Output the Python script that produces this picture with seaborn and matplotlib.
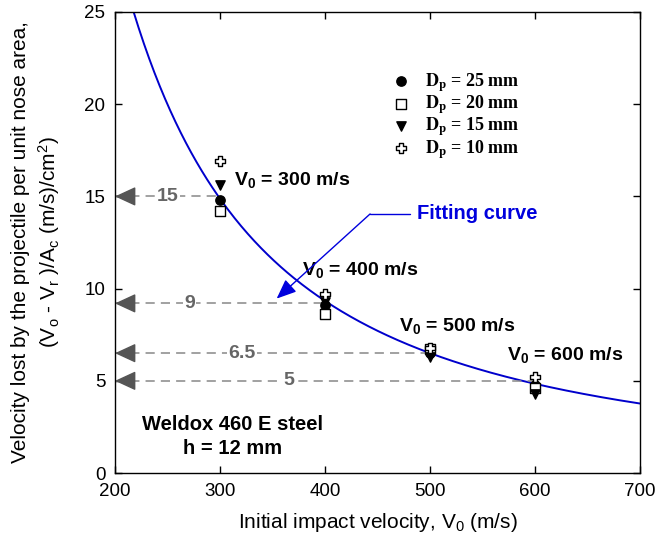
import matplotlib
matplotlib.use("Agg")
import matplotlib.pyplot as plt
from matplotlib.font_manager import FontProperties
import numpy as np
import pandas as pd
import seaborn as sns

# impact velocities (m/s)
velocities = [300, 400, 500, 600]

# velocity lost per unit nose area for each projectile diameter
dp25 = [14.8, 9.1, 6.5, 4.8]
dp20 = [14.2, 8.6, 6.7, 4.6]
dp15 = [15.6, 9.3, 6.3, 4.3]
dp10 = [16.9, 9.7, 6.8, 5.2]

# fitted power law  y = A * V0^B
FIT_A = 1.533e5
FIT_B = -1.62

# reference levels
ref_levels = [15.0, 9.2, 6.5, 5.0]
ref_labels = ["15", "9", "6.5", "5"]
ref_ends = [300, 400, 500, 600]
ref_label_x = [250, 271, 321, 366]

sns.set_theme(style="ticks")
plt.rcParams["font.family"] = ["Liberation Sans", "DejaVu Sans"]
plt.rcParams["mathtext.fontset"] = "custom"
plt.rcParams["mathtext.rm"] = "Liberation Sans"
plt.rcParams["mathtext.it"] = "Liberation Sans:italic"
plt.rcParams["mathtext.bf"] = "Liberation Sans:bold"
plt.rcParams["text.color"] = "black"
plt.rcParams["axes.labelcolor"] = "black"

fig = plt.figure(figsize=(6.57, 5.45), dpi=100)
ax = fig.add_axes([0.175, 0.132, 0.799, 0.846])

# fitting curve
xs = np.linspace(200, 700, 400)
curve = pd.DataFrame({"v0": xs, "loss": FIT_A * xs ** FIT_B})
sns.lineplot(data=curve, x="v0", y="loss", ax=ax, color="#0000cc", linewidth=1.4)

# dashed reference lines with arrows to the y axis
for lvl, lab, xe, xl in zip(ref_levels, ref_labels, ref_ends, ref_label_x):
    ax.plot([200, xe], [lvl, lvl], color="#888888", linestyle=(0, (6, 4)), linewidth=1.1, zorder=2)
    ax.annotate("", xy=(200, lvl), xytext=(218, lvl),
                arrowprops=dict(arrowstyle="-|>,head_length=0.65,head_width=0.3",
                                color="#555555", lw=1, mutation_scale=20,
                                shrinkA=0, shrinkB=0))
    ax.text(xl, lvl, lab, color="#666666", fontsize=14, fontweight="bold",
            ha="center", va="center", zorder=3,
            bbox=dict(facecolor="white", edgecolor="none", pad=1.0))

# experimental points
series = [
    (dp25, "o", "black", r"$\mathbf{D_p}$ = 25 mm"),
    (dp20, "s", "white", r"$\mathbf{D_p}$ = 20 mm"),
    (dp15, "v", "black", r"$\mathbf{D_p}$ = 15 mm"),
    (dp10, "P", "white", r"$\mathbf{D_p}$ = 10 mm"),
]
for vals, mk, fc, lab in series:
    df = pd.DataFrame({"v0": velocities, "loss": vals})
    sns.scatterplot(data=df, x="v0", y="loss", ax=ax, marker=mk, color=fc,
                    edgecolor="black", linewidth=1.0, s=45, zorder=5, label=lab)

leg_font = FontProperties(family="Liberation Serif", weight="bold", size=13,
                          math_fontfamily="stix")
ax.legend(loc="upper left", bbox_to_anchor=(0.487, 0.9), frameon=False, prop=leg_font,
          handletextpad=0.3, labelspacing=-0.03, borderpad=0.2)

# velocity labels
v_labels = [(313, 15.9, "300"), (378, 11.0, "400"), (471, 8.0, "500"), (573, 6.4, "600")]
for x, y, v in v_labels:
    ax.text(x, y, r"$\mathbf{V_0}$ = " + v + " m/s", fontsize=14, fontweight="bold",
            ha="left", va="center")

# fitting curve label and pointer
ax.text(488, 14.05, "Fitting curve", color="#0000dd", fontsize=14.5, fontweight="bold",
        ha="left", va="center")
ax.plot([443, 481], [14.05, 14.05], color="#0000dd", linewidth=1.0)
ax.annotate("", xy=(354, 9.46), xytext=(443, 14.05),
            arrowprops=dict(arrowstyle="-|>,head_length=0.6,head_width=0.25",
                            color="#0000dd", lw=1.0, mutation_scale=20,
                            shrinkA=0, shrinkB=0))

ax.text(312, 2.65, "Weldox 460 E steel", fontsize=14.5, fontweight="bold", ha="center", va="center")
ax.text(312, 1.35, "h = 12 mm", fontsize=14.5, fontweight="bold", ha="center", va="center")

ax.set_xlim(200, 700)
ax.set_ylim(0, 25)
ax.set_xticks([200, 300, 400, 500, 600, 700])
ax.set_yticks([0, 5, 10, 15, 20, 25])
ax.tick_params(direction="in", length=5, width=1, labelsize=13.5, colors="black",
               top=True, right=True, pad=7)
for sp in ax.spines.values():
    sp.set_visible(True)
    sp.set_color("black")
    sp.set_linewidth(1.0)

ax.set_xlabel(r"Initial impact velocity, V$_\mathregular{0}$ (m/s)", fontsize=15, labelpad=8)
ax.set_ylabel("Velocity lost by the projectile per unit nose area,\n"
              r"(V$_\mathregular{o}$ - V$_\mathregular{r}$ )/A$_\mathregular{c}$ (m/s)/cm$^\mathregular{2}$)",
              fontsize=15, labelpad=16, linespacing=1.3)

fig.savefig("out.png", dpi=100)
